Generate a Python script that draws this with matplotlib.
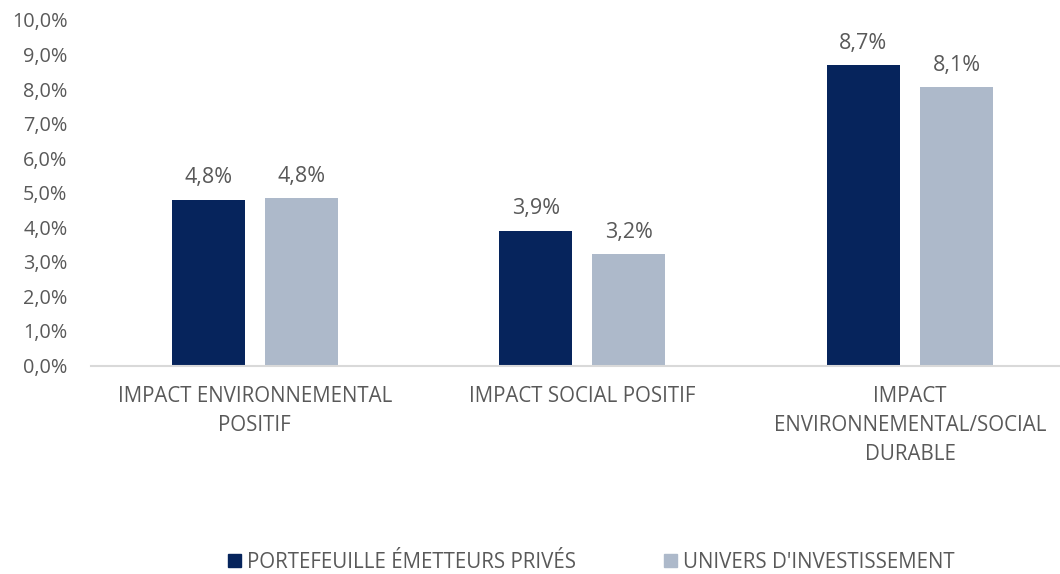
import matplotlib
matplotlib.use("Agg")
import matplotlib.pyplot as plt
from matplotlib.patches import Patch

categories = ["IMPACT ENVIRONNEMENTAL\nPOSITIF", "IMPACT SOCIAL POSITIF",
              "IMPACT\nENVIRONNEMENTAL/SOCIAL\nDURABLE"]
series_names = ["PORTEFEUILLE ÉMETTEURS PRIVÉS", "UNIVERS D'INVESTISSEMENT"]
portefeuille = [4.8, 3.9, 8.7]
univers = [4.85, 3.22, 8.05]
portefeuille_labels = ["4,8%", "3,9%", "8,7%"]
univers_labels = ["4,8%", "3,2%", "8,1%"]
yticks = [0, 1, 2, 3, 4, 5, 6, 7, 8, 9, 10]

dark = "#06245C"
light = "#ADB9CA"
txt = "#595959"
font = "Open Sans"
fs = 14.8

fig = plt.figure(figsize=(10.6, 5.74), dpi=100)
ax = fig.add_axes([91/1060, (574-365.5)/574, 1 - 91/1060, (365.5-20)/574])

x = list(range(len(categories)))
w = 0.223
off = 0.142
ax.bar([i - off for i in x], portefeuille, width=w, color=dark)
ax.bar([i + off for i in x], univers, width=w, color=light)

for i in x:
    ax.text(i - off, portefeuille[i] + 0.33, portefeuille_labels[i], ha="center", va="bottom",
            fontsize=15.5, color=txt, family=font)
    ax.text(i + off, univers[i] + 0.33, univers_labels[i], ha="center", va="bottom",
            fontsize=15.5, color=txt, family=font)

ax.set_xlim(-0.5, 2.458)
ax.set_ylim(0, 10)
ax.set_yticks(yticks)
ax.set_yticklabels([f"{v},0%" for v in yticks], fontsize=14.3, color=txt, family=font)
ax.set_xticks(x)
ax.set_xticklabels(categories, fontsize=fs, color=txt, family=font, linespacing=1.5)
ax.tick_params(axis="both", length=0)
ax.tick_params(axis="x", pad=15)
ax.tick_params(axis="y", pad=17)
for s in ["top", "right", "left"]:
    ax.spines[s].set_visible(False)
ax.spines["bottom"].set_color("#D9D9D9")
ax.spines["bottom"].set_linewidth(1.5)

handles = [Patch(color=dark), Patch(color=light)]
fig.legend(handles, series_names, loc="center", bbox_to_anchor=(0.558, (574-562)/574),
           ncol=2, frameon=False, prop={"family": font, "size": fs},
           labelcolor=txt, handlelength=0.6, handleheight=0.6, handletextpad=0.3,
           columnspacing=4.3)

fig.savefig("out.png", dpi=100)
